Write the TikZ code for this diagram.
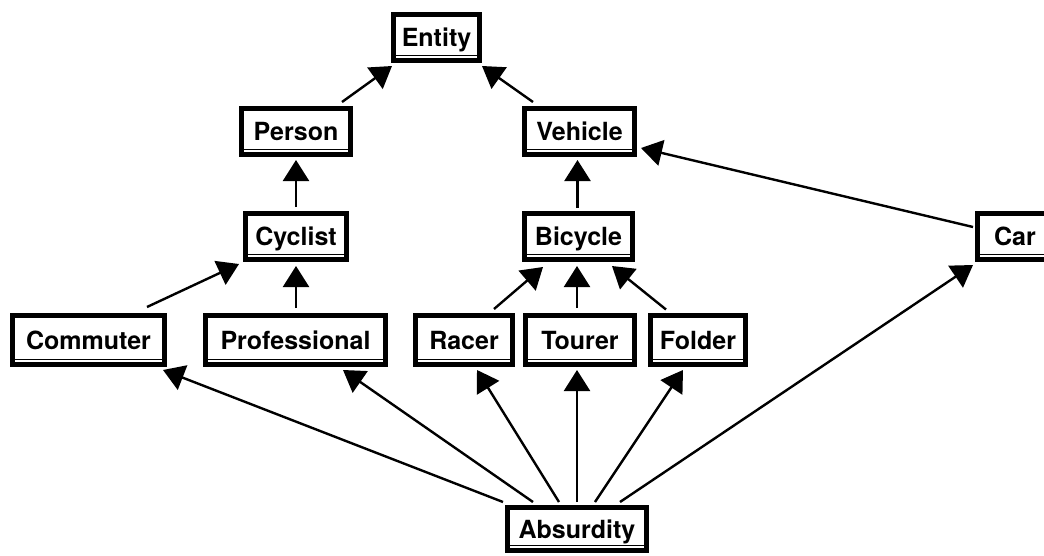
\documentclass[tikz,border=0pt]{standalone}
\usepackage{fontspec}
\setmainfont{TeX Gyre Heros}
\usetikzlibrary{arrows.meta,calc}
\begin{document}
\begin{tikzpicture}[x=1pt,y=-1pt,
  bx/.style={draw, line width=5pt, inner sep=0pt, outer sep=2.5pt, fill=white,
    font=\fontsize{25}{30}\selectfont\bfseries, text height=18pt, text depth=0pt,
    path picture={\draw[line width=1pt] ([yshift=5.5pt]path picture bounding box.south west) -- ([yshift=5.5pt]path picture bounding box.south east);}},
  arr/.style={line width=2.4pt, -{Triangle[length=21pt,width=26pt]}}
]
\useasboundingbox (0,0) rectangle (1044,555);
\fill[white] (0,0) rectangle (1044,555);
\clip (0,0) rectangle (1044,555);

\node[bx, minimum width=86pt, minimum height=46pt] (ent) at (436.5,37.5) {Entity};
\node[bx, minimum width=109pt, minimum height=46pt] (per) at (296,131.5) {Person};
\node[bx, minimum width=110pt, minimum height=46pt] (veh) at (579.5,131.5) {Vehicle};
\node[bx, minimum width=101pt, minimum height=46pt] (cyc) at (296,236.5) {Cyclist};
\node[bx, minimum width=108pt, minimum height=46pt] (bic) at (578.5,236.5) {Bicycle};
\node[bx, minimum width=75pt, minimum height=46pt] (car) at (1015,236.5) {Car};
\node[bx, minimum width=152pt, minimum height=49pt] (com) at (88.5,340) {Commuter};
\node[bx, minimum width=180pt, minimum height=49pt] (pro) at (295.5,340) {Professional};
\node[bx, minimum width=97pt, minimum height=49pt] (rac) at (464,340) {Racer};
\node[bx, minimum width=109pt, minimum height=49pt] (tou) at (580,340) {Tourer};
\node[bx, minimum width=95pt, minimum height=49pt] (fol) at (698,340) {Folder};
\node[bx, minimum width=139pt, minimum height=43pt] (abs) at (577,529) {Absurdity};

% upper levels
\draw[arr] ($(per.north)+(46,-4)$) -- ($(ent.south west)+(1,3)$);
\draw[arr] ($(veh.north)+(-46.5,-4)$) -- ($(ent.south east)+(0,3)$);
\draw[arr] ($(cyc.north)+(0,-4)$) -- ($(per.south)+(0,3)$);
\draw[arr] ($(bic.north)+(-1,-3)$) -- ($(veh.south)+(-2,3)$);
\draw[arr] ($(car.west)+(-2,-9.5)$) -- ($(veh.east)+(4,16.5)$);
\draw[arr] ($(com.north)+(58.5,-6)$) -- ($(cyc.south west)+(-4,2)$);
\draw[arr] ($(pro.north)+(0.5,-5)$) -- ($(cyc.south)+(0,4)$);
\draw[arr] ($(rac.north)+(30,-4)$) -- ($(bic.south west)+(21,5)$);
\draw[arr] ($(tou.north)+(-3,-5)$) -- ($(bic.south)+(-1.5,4)$);
\draw[arr] ($(fol.north)+(-32,-3.5)$) -- ($(bic.south east)+(-23,4)$);

% from Absurdity
\draw[arr] ($(abs.north)+(-74,-3)$) -- ($(com.south east)+(-4,3)$);
\draw[arr] ($(abs.north)+(-44,-3)$) -- ($(pro.south east)+(-45,3)$);
\draw[arr] ($(abs.north)+(-18,-3)$) -- ($(rac.south)+(13,3)$);
\draw[arr] ($(abs.north)+(0,-3)$) -- ($(tou.south)+(-3,3)$);
\draw[arr] ($(abs.north)+(18,-3)$) -- ($(fol.south)+(-15,3)$);
\draw[arr] ($(abs.north)+(43,-3)$) -- ($(car.south west)+(-2,3)$);
\end{tikzpicture}
\end{document}
